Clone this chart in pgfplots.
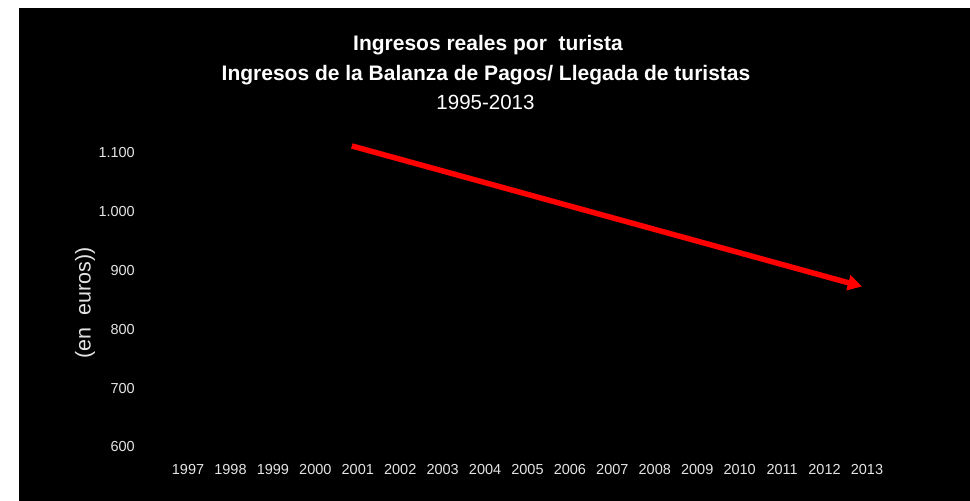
\documentclass[border=0pt]{standalone}
\usepackage{fontspec}
\setmainfont{Liberation Sans}
\usepackage{pgfplots}
\pgfplotsset{compat=1.18}
\usetikzlibrary{arrows.meta}

\definecolor{ticktxt}{HTML}{E4E4E4}

\begin{document}
\begin{tikzpicture}[x=1pt,y=1pt]
\useasboundingbox (0,0) rectangle (970,501);
\fill[white] (0,0) rectangle (970,501);
\fill[black] (19,0) rectangle (970,493);

% titles
\node[white,font=\bfseries\fontsize{21}{23}\selectfont] at (488,456) {Ingresos reales por\ \ turista};
\node[white,font=\bfseries\fontsize{21}{23}\selectfont] at (486,426) {Ingresos de la Balanza de Pagos/ Llegada de turistas};
\node[white,font=\fontsize{20.5}{22}\selectfont] at (485.5,399) {1995-2013};

\begin{axis}[
  at={(145.6pt,54pt)}, anchor=south west,
  scale only axis, width=763.8pt, height=323.4pt,
  xmin=1996, xmax=2014, ymin=600, ymax=1150,
  clip=false,
  axis line style={draw=none},
  major tick length=0pt,
  xtick={1997,1998,...,2013},
  ytick={600,700,...,1100},
  /pgf/number format/assume math mode=true,
  x tick label style={/pgf/number format/1000 sep={}, anchor=center, inner sep=0pt, yshift=-23pt},
  y tick label style={/pgf/number format/1000 sep={.}, anchor=east, inner sep=0pt, xshift=-10.6pt},
  ticklabel style={font=\fontsize{14.5}{16}\selectfont, text=ticktxt},
  ylabel={(en\ \ euros))},
  ylabel style={at={(axis description cs:-0.0793,0.445)}, anchor=center,
    font=\fontsize{21.5}{23}\selectfont, text=ticktxt},
]
\addplot[color={rgb,255:red,255;green,0;blue,0}, line width=5.5pt,
  -{Triangle[length=14pt,width=15pt]}]
  coordinates {(2000.86,1112) (2012.88,873)};
\end{axis}
\end{tikzpicture}
\end{document}
